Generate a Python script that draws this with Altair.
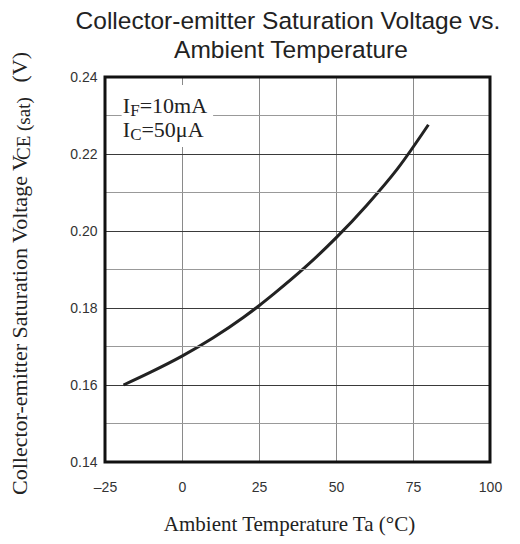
import altair as alt
import pandas as pd

# ---- data ----
temp = [-19, -10, 0, 10, 20, 25, 30, 40, 50, 60, 70, 80]
vce = [0.1600, 0.1634, 0.1675, 0.1722, 0.1776, 0.1806, 0.1838, 0.1906, 0.1982, 0.2067, 0.2162, 0.2276]
x_ticks = [-25, 0, 25, 50, 75, 100]
y_ticks = [0.14, 0.16, 0.18, 0.20, 0.22, 0.24]
y_minor = [0.15, 0.17, 0.19, 0.21, 0.23]
title_lines = ["Collector-emitter Saturation Voltage vs.", "Ambient Temperature"]
x_title = "Ambient Temperature Ta (°C)"
y_title_main = "Collector-emitter Saturation Voltage V"
y_title_sub = "CE (sat)"
y_title_end = "(V)"
cond1 = ["I", "F", "=10mA"]
cond2 = ["I", "C", "=50μA"]

W, H = 385, 385
SERIF = "Liberation Serif"
SANS = "Liberation Sans"
INK = "#222222"

xs = alt.Scale(domain=[x_ticks[0], x_ticks[-1]], nice=False, zero=False)
ys = alt.Scale(domain=[y_ticks[0], y_ticks[-1]], nice=False, zero=False)

df = pd.DataFrame({"t": temp, "v": vce})

curve = alt.Chart(df).mark_line(color=INK, strokeWidth=3, interpolate="monotone").encode(
    x=alt.X("t:Q", scale=xs, axis=alt.Axis(
        values=x_ticks, title=x_title, grid=True, gridColor="#8a8a8a", gridWidth=1,
        domain=False, ticks=False, labelPadding=18, labelFont=SANS, labelFontSize=14,
        labelColor="#333333", labelFlush=False,
        labelExpr="datum.value < 0 ? '–' + abs(datum.value) : datum.label",
        titleFont=SERIF, titleFontSize=21, titleFontWeight="normal", titleColor=INK,
        titleX=184, titleY=68, titleAlign="center", titleBaseline="alphabetic")),
    y=alt.Y("v:Q", scale=ys, axis=alt.Axis(
        values=y_ticks, title=None, grid=True, gridColor="#3a3a3a", gridWidth=1,
        domain=False, ticks=False, labelPadding=8, labelFont=SANS, labelFlush=False,
        labelFontSize=14, labelColor="#333333", format=".2f")),
)

minor = alt.Chart(pd.DataFrame({"v": y_minor})).mark_rule(color="#999999", strokeWidth=1).encode(
    y=alt.Y("v:Q", scale=ys))

# white box behind the condition labels (data coordinates)
box_df = pd.DataFrame({"t": [-19.6], "t2": [10.1], "v": [0.2218], "v2": [0.2379]})
box = alt.Chart(box_df).mark_rect(fill="white").encode(
    x=alt.X("t:Q", scale=xs), x2="t2:Q", y=alt.Y("v:Q", scale=ys), y2="v2:Q")


def seg(text, x, y, size, dx=0, dy=0):
    d = pd.DataFrame({"t": [x], "v": [y], "s": [text]})
    return alt.Chart(d).mark_text(font=SERIF, fontSize=size, color=INK, align="left",
                                  baseline="alphabetic", dx=dx, dy=dy).encode(
        x=alt.X("t:Q", scale=xs), y=alt.Y("v:Q", scale=ys), text="s:N")


ann = [
    seg(cond1[0], -19.2, 0.2306, 22),
    seg(cond1[1], -19.2, 0.2306, 17, dx=7.3, dy=3),
    seg(cond1[2], -19.2, 0.2306, 22, dx=16.8),
    seg(cond2[0], -19.2, 0.2245, 22),
    seg(cond2[1], -19.2, 0.2245, 17, dx=7.3, dy=3),
    seg(cond2[2], -19.2, 0.2245, 22, dx=18.6),
]


def pseg(text, px, py, size, align, font, angle=0):
    d = pd.DataFrame({"s": [text]})
    return alt.Chart(d).mark_text(font=font, fontSize=size, color=INK, align=align,
                                  baseline="alphabetic", angle=angle).encode(
        x=alt.value(px), y=alt.value(py), text="s:N")


ytitle = [
    pseg(y_title_main, -78, 418, 22, "left", SERIF, 270),
    pseg(y_title_sub, -75, 83, 19, "left", SERIF, 270),
    pseg(y_title_end, -78, -25, 22, "right", SERIF, 270),
]

titles = [
    pseg(title_lines[0], 183, -48.5, 24.5, "center", SANS),
    pseg(title_lines[1], 186, -19.5, 24.5, "center", SANS),
]

frame_df = pd.DataFrame({"t": [x_ticks[0]], "t2": [x_ticks[-1]], "v": [y_ticks[0]], "v2": [y_ticks[-1]]})
frame = alt.Chart(frame_df).mark_rect(filled=False, stroke="#111111", strokeWidth=3).encode(
    x=alt.X("t:Q", scale=xs), x2="t2:Q", y=alt.Y("v:Q", scale=ys), y2="v2:Q")

chart = alt.layer(curve, minor, box, *ann, *ytitle, *titles, frame).properties(
    width=W, height=H,
    autosize=alt.AutoSizeParams(type="none"),
    padding={"left": 97, "top": 69, "right": 22, "bottom": 74},
).configure_view(stroke=None).configure(background="white")

chart.save("out.html", embed_options={"renderer": "svg", "actions": False})
